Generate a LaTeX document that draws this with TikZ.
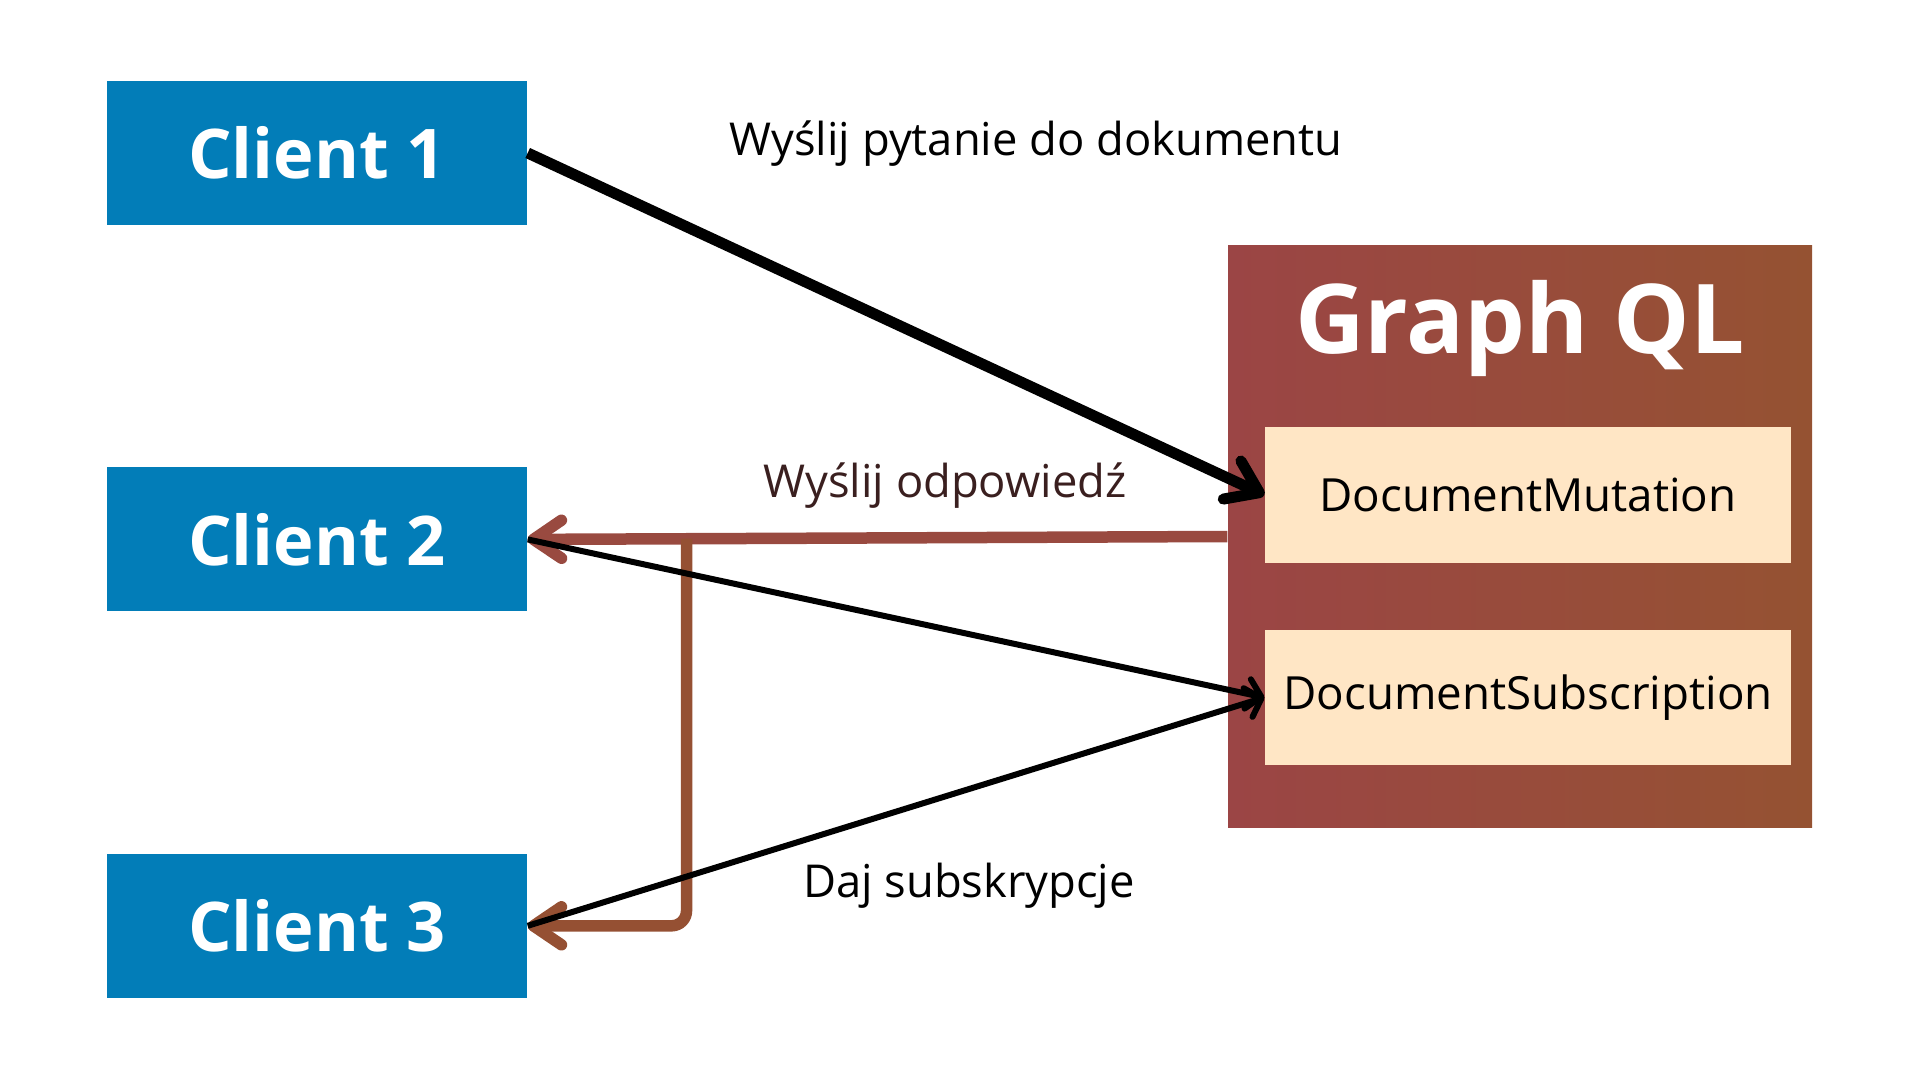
\documentclass[tikz,border=0pt]{standalone}
\usepackage{fontspec}
\setmainfont{Open Sans}
\usetikzlibrary{positioning, arrows.meta, calc}
\definecolor{clientblue}{HTML}{027DB8}
\definecolor{gqlleft}{HTML}{9B4545}
\definecolor{gqlright}{HTML}{955232}
\definecolor{opfill}{HTML}{FFE6C5}
\definecolor{replybrown}{HTML}{994A40}
\definecolor{forkbrown}{HTML}{955033}
\definecolor{replytext}{HTML}{3A1F1F}
\tikzset{
	clientbox/.style={fill=clientblue, text=white, minimum width=4.2cm, minimum height=1.44cm, font=\fontsize{19.5}{24}\selectfont\bfseries},
	gqlbox/.style={left color=gqlleft, right color=gqlright, minimum width=5.84cm, minimum height=5.81cm},
	opbox/.style={fill=opfill, minimum width=5.26cm, minimum height=1.35cm, font=\fontsize{13}{15}\selectfont},
	msg/.style={font=\fontsize{12.9}{15}\selectfont},
}
\begin{document}
\begin{tikzpicture}
		\useasboundingbox (0,0) rectangle (19.2,-10.8);
		
		\node[clientbox] (client1) at (3.17,-1.53) {Client 1};
		\node[clientbox, below=2.41cm of client1] (client2) {Client 2};
		\node[clientbox, below=2.41cm of client2] (client3) {Client 3};
		
		\node[gqlbox] (gql) at (15.20,-5.365) {};
		\node[text=white, font=\fontsize{27.4}{33}\selectfont\bfseries] (gqltitle) at (15.20,-3.28) {Graph QL};
		\node[opbox] (mut) at (15.28,-4.95) {DocumentMutation};
		\node[opbox] (sub) at (15.28,-6.975) {DocumentSubscription};
		
		\node[msg] (askmsg) at (10.36,-1.44) {Wyślij pytanie do dokumentu};
		\node[msg, text=replytext] (replymsg) at (9.45,-4.86) {Wyślij odpowiedź};
		\node[msg] (submsg) at (9.69,-8.86) {Daj subskrypcje};
		
		\coordinate (fork) at ($(client2.east)!0.227!(gql.west)$);
		\draw[replybrown, line width=0.115cm, -{Straight Barb[length=0.28cm, width=0.38cm, round]}] (gql.west) -- (client2.east);
		\draw[forkbrown, line width=0.115cm, rounded corners=0.15cm, -{Straight Barb[length=0.28cm, width=0.38cm, round]}] (fork) |- (client3.east);
		
		\draw[line width=0.06cm, -{Straight Barb[length=0.14cm, width=0.3cm, round]}] (client2.east) -- (sub.west);
		\draw[line width=0.06cm, -{Straight Barb[length=0.14cm, width=0.3cm, round]}] (client3.east) -- (sub.west);
		\draw[line width=0.11cm, -{Straight Barb[length=0.3cm, width=0.42cm, round]}] (client1.east) -- (mut.west);
		
	\end{tikzpicture}
\end{document}
